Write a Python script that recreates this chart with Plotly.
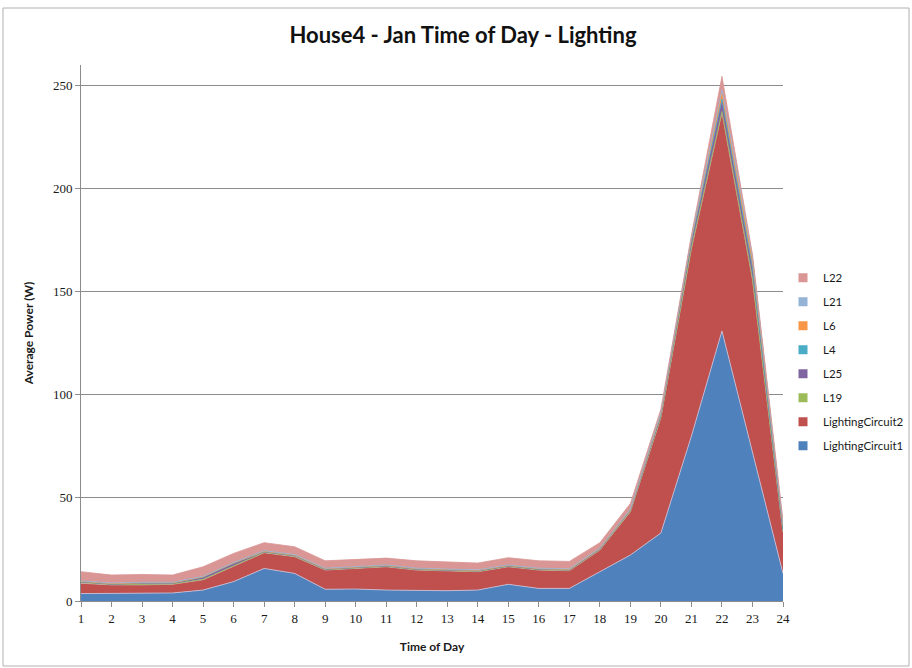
import plotly.graph_objects as go

# Hour of day (categories on the x axis)
hours = list(range(1, 25))

# Average power per circuit / lamp, in watts (stacked areas, bottom to top)
lighting_circuit1 = [3.6, 3.6, 3.6, 3.9, 5.3, 9.4, 15.8, 13.4, 5.7, 5.8, 5.3, 5.0,
                     5.0, 5.3, 8.1, 6.1, 6.1, 14.2, 22.3, 33.0, 80.0, 131.0, 72.0, 13.4]
lighting_circuit2 = [5.0, 4.2, 4.2, 4.2, 5.0, 7.6, 7.6, 8.1, 9.3, 10.0, 11.3, 10.0,
                     9.7, 8.9, 8.5, 8.9, 8.6, 10.5, 21.0, 56.0, 91.0, 106.0, 84.0, 20.0]
l19 = [0.5, 0.2, 0.2, 0.2, 0.2, 0.2, 0.2, 0.2, 0.2, 0.2, 0.2, 0.2,
       0.2, 0.2, 0.2, 0.2, 0.2, 0.2, 0.3, 0.3, 0.5, 0.5, 0.5, 0.2]
l25 = [0.2, 0.2, 0.6, 0.3, 1.0, 1.0, 0.3, 0.3, 0.2, 0.2, 0.2, 0.2,
       0.2, 0.2, 0.2, 0.2, 0.2, 0.3, 0.5, 1.0, 3.0, 5.5, 5.0, 1.0]
l4 = [0.1, 0.1, 0.1, 0.1, 0.1, 0.1, 0.1, 0.1, 0.1, 0.1, 0.1, 0.1,
      0.1, 0.1, 0.1, 0.1, 0.1, 0.1, 0.1, 0.3, 0.5, 0.5, 0.5, 0.2]
l6 = [0.1, 0.1, 0.1, 0.1, 0.1, 0.1, 0.1, 0.1, 0.1, 0.1, 0.1, 0.1,
      0.1, 0.1, 0.1, 0.1, 0.1, 0.1, 0.1, 0.5, 1.0, 3.5, 4.0, 2.0]
l21 = [0.3, 0.3, 0.3, 0.3, 0.3, 0.3, 0.3, 0.3, 0.3, 0.3, 0.3, 0.3,
       0.3, 0.3, 0.3, 0.3, 0.3, 0.3, 0.3, 0.5, 0.5, 1.0, 1.0, 0.5]
l22 = [4.4, 3.9, 3.8, 3.5, 4.6, 4.4, 3.9, 3.8, 3.6, 3.6, 3.3, 3.6,
       3.5, 3.3, 3.5, 3.6, 3.6, 2.6, 2.7, 1.5, 1.0, 6.5, 1.0, 1.7]

# name, values, fill colour, edge colour
series = [
    ("LightingCircuit1", lighting_circuit1, "#4F81BD", "#c8c4de"),
    ("LightingCircuit2", lighting_circuit2, "#C0504D", "#cfa3b8"),
    ("L19", l19, "#9BBB59", "#9BBB59"),
    ("L25", l25, "#8064A2", "#8064A2"),
    ("L4", l4, "#4BACC6", "#4BACC6"),
    ("L6", l6, "#F79646", "#F79646"),
    ("L21", l21, "#95B3D7", "#95B3D7"),
    ("L22", l22, "#D99694", "#D99694"),
]

fig = go.Figure()

for name, values, color, edge in series:
    fig.add_trace(go.Scatter(
        x=hours, y=values, name=name, mode="lines",
        stackgroup="lighting",
        line=dict(color=edge, width=0.8),
        fillcolor=color,
        showlegend=False,
        hoverinfo="x+y+name",
    ))

# Square legend keys, top entry is the top of the stack
for name, values, color, edge in reversed(series):
    fig.add_trace(go.Scatter(
        x=[None], y=[None], name=name, mode="markers",
        marker=dict(symbol="square", size=9, color=color),
        legendgroup=name,
        showlegend=True,
    ))

grey = "#8c8c8c"
tick_font = dict(family="Liberation Serif, DejaVu Serif, serif", size=13, color="#1a1a1a")
label_font = dict(family="Lato, Open Sans, sans-serif", size=12, color="#1a1a1a")

fig.update_layout(
    width=912, height=668,
    margin=dict(l=81, r=129, t=65, b=67, autoexpand=False),
    paper_bgcolor="white",
    plot_bgcolor="white",
    title=dict(
        text="<b>House4 - Jan Time of Day - Lighting</b>",
        x=(463 - 81) / 702, xref="paper", xanchor="center",
        y=0.947, yref="container", yanchor="middle",
        font=dict(family="Lato, Open Sans, sans-serif", size=22, color="#111111"),
    ),
    xaxis=dict(
        range=[1, 24],
        tickmode="array", tickvals=hours, ticktext=[str(h) for h in hours],
        ticks="outside", ticklen=5, tickcolor=grey,
        showline=True, linecolor=grey, linewidth=1,
        showgrid=False, zeroline=False,
        tickfont=tick_font,
        title=dict(text="<b>Time of Day</b>", font=label_font, standoff=18),
    ),
    yaxis=dict(
        range=[0, 260],
        tickmode="array", tickvals=[0, 50, 100, 150, 200, 250],
        ticks="outside", ticklen=5, tickcolor=grey,
        showline=True, linecolor=grey, linewidth=1,
        showgrid=True, gridcolor=grey, gridwidth=1,
        zeroline=False,
        tickfont=tick_font,
        title=dict(text="<b>Average Power (W)</b>", font=label_font, standoff=16),
    ),
    legend=dict(
        x=(783 - 81) / 702, xanchor="left",
        y=0.63, yanchor="top",
        traceorder="grouped",
        tracegroupgap=5,
        itemwidth=30,
        font=dict(family="Lato, Open Sans, sans-serif", size=11.5, color="#1a1a1a"),
        bgcolor="rgba(0,0,0,0)",
    ),
    shapes=[
        # outer chart frame
        dict(type="rect", xref="paper", yref="paper",
             x0=(3 - 81) / 702, x1=(909 - 81) / 702,
             y0=(601 - 666) / 536, y1=(601 - 8) / 536,
             line=dict(color="#b0b0b0", width=1), fillcolor="rgba(0,0,0,0)",
             layer="below"),
    ],
)

fig.write_html("out.html")
